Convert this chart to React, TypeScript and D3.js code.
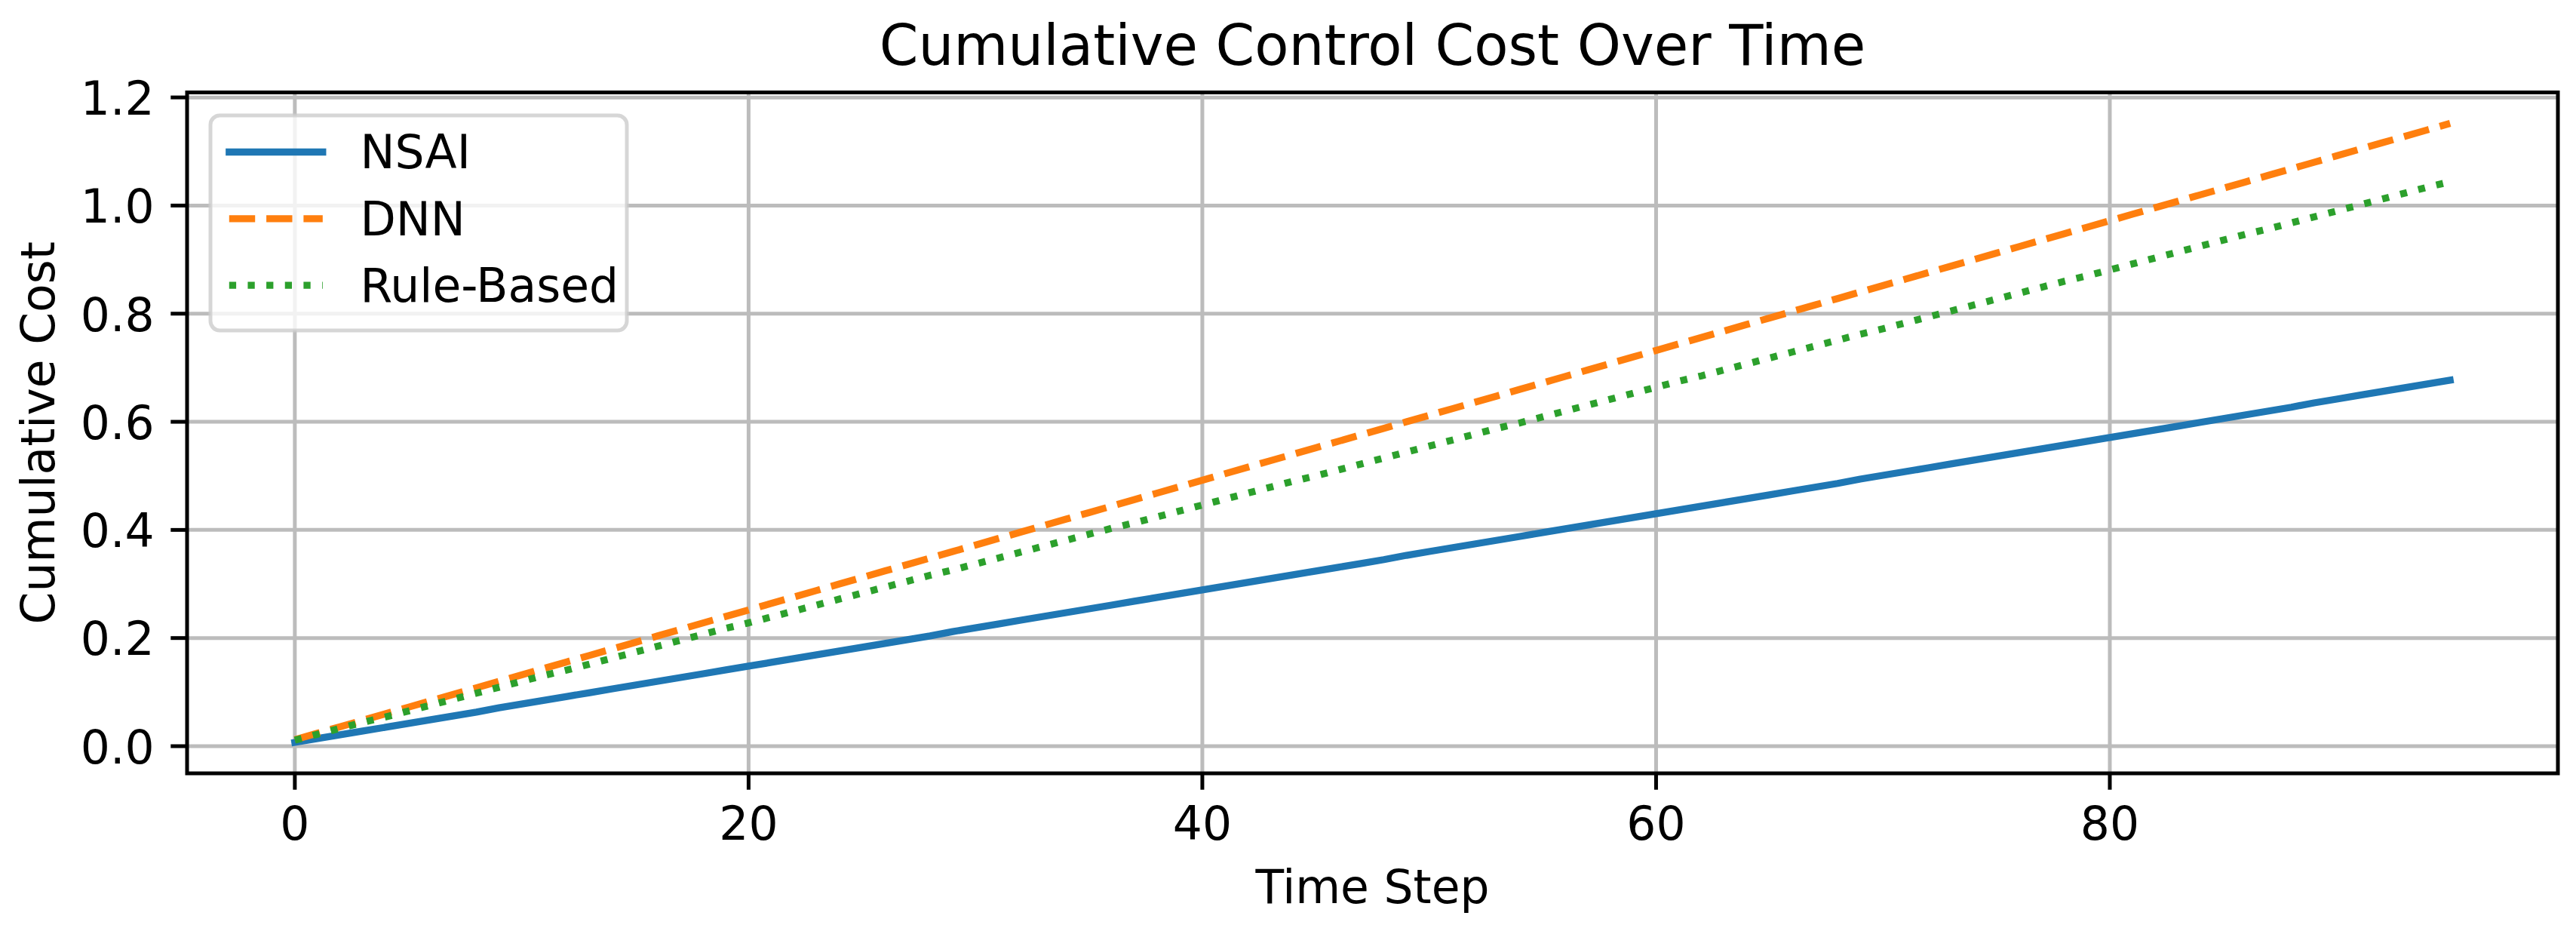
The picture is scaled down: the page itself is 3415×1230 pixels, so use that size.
import React from "react";
import * as d3 from "d3";

const seriesNames = ["NSAI", "DNN", "Rule-Based"];
const seriesColors = ["#1f77b4", "#ff7f0e", "#2ca02c"];

const nsaiCost = [
  0.007, 0.014, 0.021, 0.028, 0.035, 0.042, 0.049, 0.056, 0.063, 0.071,
  0.078, 0.085, 0.092, 0.099, 0.106, 0.113, 0.120, 0.127, 0.134, 0.141,
  0.148, 0.155, 0.162, 0.169, 0.176, 0.183, 0.190, 0.197, 0.204, 0.212,
  0.219, 0.226, 0.233, 0.240, 0.247, 0.254, 0.261, 0.268, 0.275, 0.282,
  0.289, 0.296, 0.303, 0.310, 0.317, 0.324, 0.331, 0.338, 0.345, 0.353,
  0.360, 0.367, 0.374, 0.381, 0.388, 0.395, 0.402, 0.409, 0.416, 0.423,
  0.430, 0.437, 0.444, 0.451, 0.458, 0.465, 0.472, 0.479, 0.486, 0.494,
  0.501, 0.508, 0.515, 0.522, 0.529, 0.536, 0.543, 0.550, 0.557, 0.564,
  0.571, 0.578, 0.585, 0.592, 0.599, 0.606, 0.613, 0.620, 0.627, 0.635,
  0.642, 0.649, 0.656, 0.663, 0.670, 0.677,
];

const dnnCost = [
  0.012, 0.024, 0.036, 0.048, 0.060, 0.072, 0.084, 0.096, 0.108, 0.120,
  0.132, 0.144, 0.156, 0.168, 0.180, 0.192, 0.204, 0.216, 0.228, 0.240,
  0.252, 0.264, 0.276, 0.288, 0.300, 0.312, 0.324, 0.336, 0.348, 0.360,
  0.372, 0.384, 0.396, 0.408, 0.420, 0.432, 0.444, 0.456, 0.468, 0.480,
  0.492, 0.504, 0.516, 0.528, 0.540, 0.552, 0.564, 0.576, 0.588, 0.600,
  0.612, 0.624, 0.636, 0.648, 0.660, 0.672, 0.684, 0.696, 0.708, 0.720,
  0.732, 0.744, 0.756, 0.768, 0.780, 0.792, 0.804, 0.816, 0.828, 0.840,
  0.852, 0.864, 0.876, 0.888, 0.900, 0.912, 0.924, 0.936, 0.948, 0.960,
  0.972, 0.984, 0.996, 1.008, 1.020, 1.032, 1.044, 1.056, 1.068, 1.080,
  1.092, 1.104, 1.116, 1.128, 1.140, 1.152,
];

const ruleCost = [
  0.011, 0.022, 0.033, 0.044, 0.054, 0.065, 0.076, 0.087, 0.098, 0.109,
  0.120, 0.131, 0.141, 0.152, 0.163, 0.174, 0.185, 0.196, 0.207, 0.218,
  0.228, 0.239, 0.250, 0.261, 0.272, 0.283, 0.294, 0.305, 0.316, 0.326,
  0.337, 0.348, 0.359, 0.370, 0.381, 0.392, 0.403, 0.413, 0.424, 0.435,
  0.446, 0.457, 0.468, 0.479, 0.490, 0.500, 0.511, 0.522, 0.533, 0.544,
  0.555, 0.566, 0.577, 0.588, 0.598, 0.609, 0.620, 0.631, 0.642, 0.653,
  0.664, 0.675, 0.685, 0.696, 0.707, 0.718, 0.729, 0.740, 0.751, 0.762,
  0.772, 0.783, 0.794, 0.805, 0.816, 0.827, 0.838, 0.849, 0.860, 0.870,
  0.881, 0.892, 0.903, 0.914, 0.925, 0.936, 0.947, 0.957, 0.968, 0.979,
  0.990, 1.001, 1.012, 1.023, 1.034, 1.044,
];

const timeSteps = d3.range(nsaiCost.length);
const xTicks = [0, 20, 40, 60, 80];
const yTicks = [0.0, 0.2, 0.4, 0.6, 0.8, 1.0, 1.2];

const titleText = "Cumulative Control Cost Over Time";
const xLabelText = "Time Step";
const yLabelText = "Cumulative Cost";

const W = 3415;
const H = 1230;
const AX = { left: 248, right: 3391, top: 122.5, bottom: 1025 };
const FONT = "'DejaVu Sans', sans-serif";
const FS = 61.5;
const LW = 9.3;

export default function App() {
  const allSeries = [nsaiCost, dnnCost, ruleCost];
  const xMin = d3.min(timeSteps)!;
  const xMax = d3.max(timeSteps)!;
  const xPad = (xMax - xMin) * 0.05;
  const yMin = d3.min(allSeries.flat())!;
  const yMax = d3.max(allSeries.flat())!;
  const yPad = (yMax - yMin) * 0.05;

  const x = d3.scaleLinear().domain([xMin - xPad, xMax + xPad]).range([AX.left, AX.right]);
  const y = d3.scaleLinear().domain([yMin - yPad, yMax + yPad]).range([AX.bottom, AX.top]);

  const line = d3
    .line<number>()
    .x((_, i) => x(timeSteps[i]))
    .y((d) => y(d));

  const styles = [
    { dash: undefined as string | undefined, cap: "square" as const },
    { dash: `${3.7 * LW} ${1.6 * LW}`, cap: "butt" as const },
    { dash: `${1 * LW} ${1.65 * LW}`, cap: "butt" as const },
  ];

  const tickLen = 21.7;
  const tickPad = 21.7;
  const cx = (AX.left + AX.right) / 2;
  const cy = (AX.top + AX.bottom) / 2;

  const legX = AX.left + 31;
  const legY = AX.top + 30.5;
  const legW = 552;
  const legH = 285;
  const handleX0 = legX + 24.8;
  const handleX1 = handleX0 + 124;
  const textX = handleX1 + 49.6;
  const rowBase0 = 223.3;
  const rowStep = 88.35;

  return (
    <svg
      width={W}
      height={H}
      style={{ position: "absolute", left: 0, top: 0, display: "block", background: "#fff" }}
      fontFamily={FONT}
    >
      <rect x={0} y={0} width={W} height={H} fill="#fff" />
      <g stroke="#bcbcbc" strokeWidth={5}>
        {xTicks.map((t) => (
          <line key={"gx" + t} x1={x(t)} x2={x(t)} y1={AX.top} y2={AX.bottom} />
        ))}
        {yTicks.map((t) => (
          <line key={"gy" + t} x1={AX.left} x2={AX.right} y1={y(t)} y2={y(t)} />
        ))}
      </g>
      <g fill="none" strokeLinejoin="round">
        {allSeries.map((s, i) => (
          <path
            key={seriesNames[i]}
            d={line(s) || ""}
            stroke={seriesColors[i]}
            strokeWidth={LW}
            strokeDasharray={styles[i].dash}
            strokeLinecap={styles[i].cap}
          />
        ))}
      </g>
      <rect
        x={AX.left}
        y={AX.top}
        width={AX.right - AX.left}
        height={AX.bottom - AX.top}
        fill="none"
        stroke="#000"
        strokeWidth={5}
        strokeLinejoin="miter"
      />
      <g stroke="#000" strokeWidth={5}>
        {xTicks.map((t) => (
          <line key={"tx" + t} x1={x(t)} x2={x(t)} y1={AX.bottom} y2={AX.bottom + tickLen} />
        ))}
        {yTicks.map((t) => (
          <line key={"ty" + t} x1={AX.left - tickLen} x2={AX.left} y1={y(t)} y2={y(t)} />
        ))}
      </g>
      <g fontSize={FS} fill="#000">
        {xTicks.map((t) => (
          <text key={"lx" + t} x={x(t)} y={1113} textAnchor="middle">
            {d3.format("d")(t)}
          </text>
        ))}
        {yTicks.map((t) => (
          <text key={"ly" + t} x={AX.left - tickLen - tickPad} y={y(t) + 22.8} textAnchor="end">
            {d3.format(".1f")(t)}
          </text>
        ))}
        <text x={cx} y={1196.7} textAnchor="middle">
          {xLabelText}
        </text>
        <text transform={`translate(71.7, ${cy}) rotate(-90)`} textAnchor="middle">
          {yLabelText}
        </text>
      </g>
      <text x={cx} y={86} fontSize={74} textAnchor="middle" fill="#000">
        {titleText}
      </text>
      <rect
        x={legX}
        y={legY}
        width={legW}
        height={legH}
        rx={12.4}
        ry={12.4}
        fill="#fff"
        fillOpacity={0.8}
        stroke="#cccccc"
        strokeOpacity={0.8}
        strokeWidth={5}
      />
      {seriesNames.map((name, i) => {
        const base = rowBase0 + i * rowStep;
        const ly = base - 21.8;
        return (
          <g key={"leg" + name}>
            <line
              x1={handleX0}
              x2={handleX1}
              y1={ly}
              y2={ly}
              stroke={seriesColors[i]}
              strokeWidth={LW}
              strokeDasharray={styles[i].dash}
              strokeLinecap={styles[i].cap}
            />
            <text x={textX} y={base} fontSize={FS} fill="#000">
              {name}
            </text>
          </g>
        );
      })}
    </svg>
  );
}
